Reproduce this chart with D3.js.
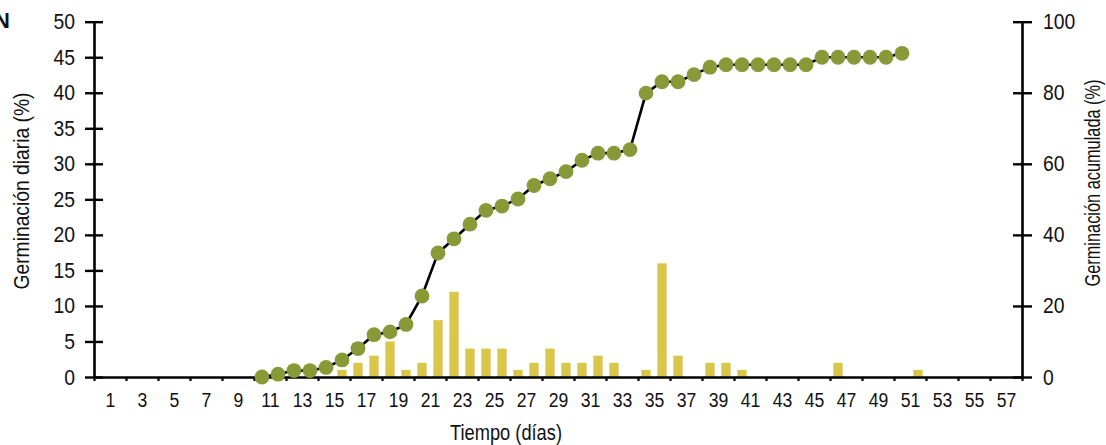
<!DOCTYPE html>
<html>
<head>
<meta charset="utf-8">
<style>
  body { margin: 0; background: #fff; }
  svg text { font-family: "Liberation Sans", Arial, sans-serif; fill: #111; }
</style>
</head>
<body>
<div id="chart_area"></div>

<script src="https://d3js.org/d3.v7.min.js"></script>

<script>

    // daily germination (bars, left axis, %)
    var barDays   = [13, 14, 16, 17, 18, 19, 20, 21, 22, 23, 24, 25, 26, 27, 28, 29, 30, 31, 32, 33, 35, 36, 37, 39, 40, 41, 47, 52];
    var barValues = [0.8, 1, 1, 2, 3, 5, 1, 2, 8, 12, 4, 4, 4, 1, 2, 4, 2, 2, 3, 2, 1, 16, 3, 2, 2, 1, 2, 1];

    // cumulative germination (line + dots, right axis, %)
    var cumDays   = d3.range(11, 52);
    var cumValues = [0, 0.8, 1.8, 1.8, 2.7, 4.8, 8.0, 11.9, 12.7, 14.8,
                     22.8, 34.9, 38.9, 43.0, 46.9, 48.1, 50.1, 53.9, 55.8, 57.8,
                     61.0, 63.0, 63.0, 64.0, 79.9, 83.1, 83.1, 85.1, 87.2, 87.9,
                     87.9, 87.9, 87.9, 87.9, 87.9, 90.0, 90.0, 90.0, 90.0, 90.0,
                     91.1];

    // tick labels
    var dayLabels   = d3.range(1, 58, 2);
    var leftTicks   = d3.range(0, 51, 5);
    var rightTicks  = d3.range(0, 101, 20);
    var nDays = 58;

    var barColor = "#d9c74c",
        dotColor = "#879a37";

    // no narrow font installed, so squeeze the glyphs a bit
    function condense(sel, k) {
      sel.each(function() {
        var w = this.getComputedTextLength();
        d3.select(this)
          .attr("textLength", w * k)
          .attr("lengthAdjust", "spacingAndGlyphs");
      });
    }

    // set the dimensions and margins of the graph
    var margin = {top: 21.7, right: 84, bottom: 68, left: 94},
        width = 1106 - margin.left - margin.right,
        height = 445 - margin.top - margin.bottom;

    var svg = d3.select("#chart_area")
      .append("svg")
        .attr("width", 1106)
        .attr("height", 445);

    var svG = svg.append("g")
        .attr("transform", "translate(" + margin.left + "," + margin.top + ")");

    // scales: a day d sits in the slot [d-1, d]
    var x = d3.scaleLinear().domain([0, nDays]).range([0, width]);
    var yL = d3.scaleLinear().domain([0, 50]).range([height, 0]);
    var yR = d3.scaleLinear().domain([0, 100]).range([height, 0]);

    var barW = 9.3;

    // bars
    svG.selectAll("rect.bar")
      .data(barDays)
      .enter()
      .append("rect")
        .attr("class", "bar")
        .attr("x", function(d){ return x(d - 0.5) - barW / 2 })
        .attr("width", barW)
        .attr("y", function(d, i){ return yL(barValues[i]) })
        .attr("height", function(d, i){ return yL(0) - yL(barValues[i]) })
        .attr("fill", barColor);

    // x axis: short ticks every 2 days, labels between them
    var xTicks = svG.append("g")
        .attr("transform", "translate(0," + height + ")")
        .call(d3.axisBottom(x).tickValues(d3.range(0, nDays + 1, 2)).tickSize(4).tickSizeOuter(0).tickFormat(""));
    xTicks.select(".domain").attr("stroke-width", 2.6);
    xTicks.selectAll(".tick line").attr("stroke-width", 2.2);

    var xLab = svG.append("g")
        .attr("transform", "translate(0," + height + ")")
        .call(d3.axisBottom(x).tickValues(dayLabels).tickSize(0).tickPadding(16));
    xLab.select(".domain").remove();
    xLab.selectAll("text")
        .text(function(d){ return d })
        .style("font-size", "20px")
        .style("font-family", "'Liberation Sans', sans-serif")
        .call(condense, 0.88);

    // left axis
    var leftAx = svG.append("g")
        .call(d3.axisLeft(yL).tickValues(leftTicks).tickSize(9).tickSizeOuter(0).tickPadding(10));
    leftAx.select(".domain").attr("stroke-width", 2.6);
    leftAx.selectAll(".tick line").attr("x1", 9).attr("stroke-width", 2.4);
    leftAx.selectAll("text")
        .style("font-size", "22px")
        .style("font-family", "'Liberation Sans', sans-serif")
        .call(condense, 0.88);

    // right axis
    var rightAx = svG.append("g")
        .attr("transform", "translate(" + width + ",0)")
        .call(d3.axisRight(yR).tickValues(rightTicks).tickSize(10).tickSizeOuter(0).tickPadding(11));
    rightAx.select(".domain").attr("stroke-width", 2.6);
    rightAx.selectAll(".tick line").attr("x1", -9).attr("stroke-width", 2.4);
    rightAx.selectAll("text")
        .style("font-size", "22px")
        .style("font-family", "'Liberation Sans', sans-serif")
        .call(condense, 0.88);

    // cumulative line
    var line = d3.line()
        .x(function(d, i){ return x(cumDays[i] - 0.5) })
        .y(function(d){ return yR(d) });

    svG.append("path")
        .datum(cumValues)
        .attr("d", line)
        .attr("fill", "none")
        .attr("stroke", "#000")
        .attr("stroke-width", 2.6);

    svG.selectAll("circle.dot")
      .data(cumValues)
      .enter()
      .append("circle")
        .attr("class", "dot")
        .attr("cx", function(d, i){ return x(cumDays[i] - 0.5) })
        .attr("cy", function(d){ return yR(d) })
        .attr("r", 7.4)
        .attr("fill", dotColor);

    // titles
    svg.append("text")
        .attr("transform", "translate(29,191) rotate(-90)")
        .attr("text-anchor", "middle")
        .attr("textLength", 197)
        .attr("lengthAdjust", "spacingAndGlyphs")
        .style("font-size", "22px")
        .text("Germinación diaria (%)");

    svg.append("text")
        .attr("transform", "translate(1100,183) rotate(-90)")
        .attr("text-anchor", "middle")
        .attr("textLength", 207)
        .attr("lengthAdjust", "spacingAndGlyphs")
        .style("font-size", "22px")
        .text("Germinación acumulada (%)");

    svg.append("text")
        .attr("x", 506)
        .attr("y", 440)
        .attr("text-anchor", "middle")
        .attr("textLength", 112)
        .attr("lengthAdjust", "spacingAndGlyphs")
        .style("font-size", "22px")
        .text("Tiempo (días)");

    svg.append("text")
        .attr("x", 10)
        .attr("y", 28)
        .attr("text-anchor", "end")
        .style("font-size", "22px")
        .style("font-weight", "bold")
        .text("N");

</script>
</body>
</html>
